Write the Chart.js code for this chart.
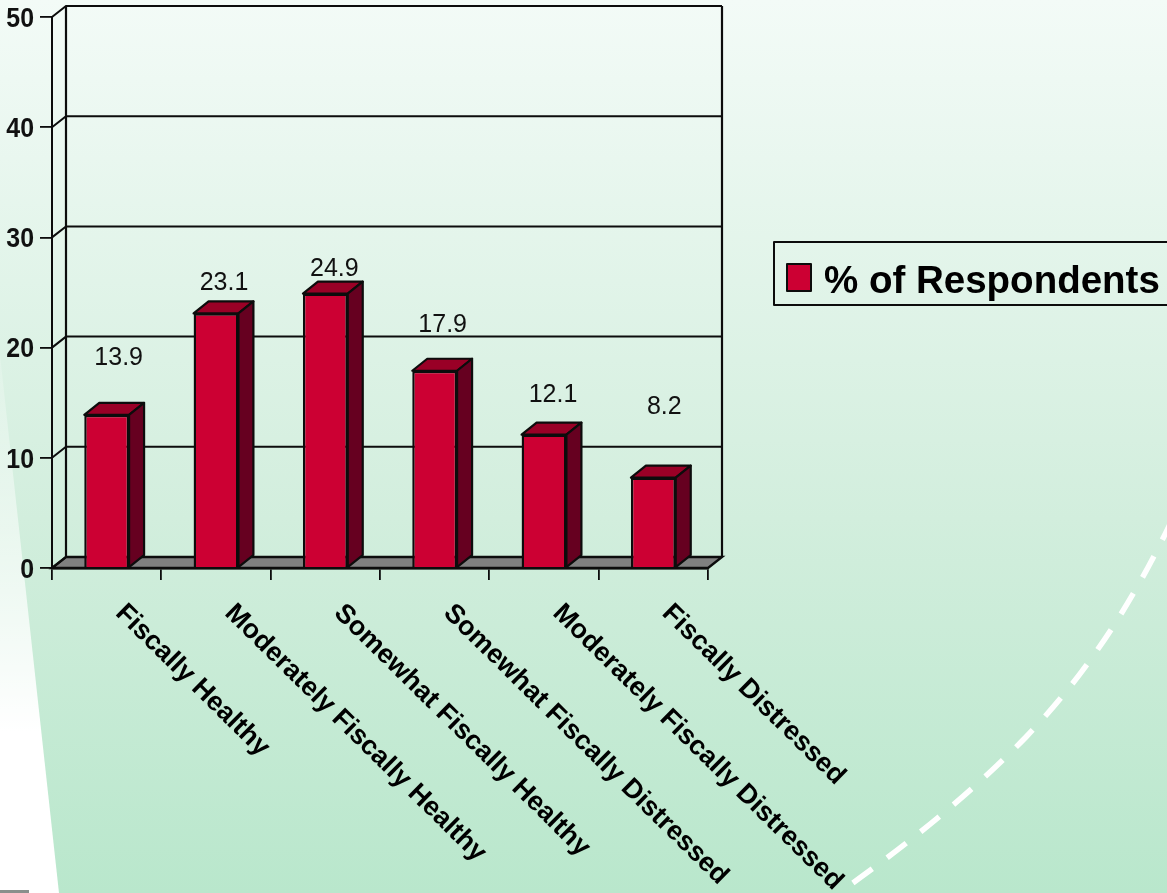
<!DOCTYPE html>
<html>
<head>
<meta charset="utf-8">
<style>
  html, body { margin: 0; padding: 0; width: 1167px; height: 893px; overflow: hidden; }
  body { position: relative; background: linear-gradient(to bottom, #f3fbf7 0%, #d2eedd 58%, #b9e7cc 100%); }
  svg, canvas { position: absolute; left: 0; top: 0; }
</style>
</head>
<body>
<svg width="1167" height="893">
  <defs>
    <linearGradient id="wedge" x1="0" y1="0" x2="0" y2="1">
      <stop offset="0" stop-color="#ffffff" stop-opacity="0.15"/>
      <stop offset="0.7" stop-color="#ffffff" stop-opacity="1"/>
    </linearGradient>
  </defs>
  <polygon points="0,355 59,893 0,893" fill="url(#wedge)"/>
  <rect x="0" y="890" width="29" height="3" fill="#8a8f8c"/>
  <path d="M1170,524 Q1110,650 1026,737 Q950,815 840,892" fill="none" stroke="#fff" stroke-width="5.5" stroke-dasharray="24 18.5" stroke-dashoffset="6.5"/>
</svg>
<canvas id="fiscalChart" width="1167" height="893"></canvas>
<script src="https://cdn.jsdelivr.net/npm/chart.js@4"></script>
<script>
const categories = ['Fiscally Healthy', 'Moderately Fiscally Healthy', 'Somewhat Fiscally Healthy',
  'Somewhat Fiscally Distressed', 'Moderately Fiscally Distressed', 'Fiscally Distressed'];
const respondents = [13.9, 23.1, 24.9, 17.9, 12.1, 8.2];
const seriesName = '% of Respondents';
const yTicks = [0, 10, 20, 30, 40, 50];

// how far each value label floats above its bar and to the right of its centre, px
const labelLift = [57, 30, 24, 46, 40, 71];
const labelShift = [12, 8, 9, 8, 9, 11];

const ink = '#0c0c0c';
const barDepthX = 15, barDepthY = 12;
const wallDepthX = 14, wallDepthY = 11;

// back wall, floor and the little diagonals from the y axis
const wallPlugin = {
  id: 'wall',
  beforeDatasetsDraw(chart) {
    const { ctx, chartArea: a, scales: { y } } = chart;
    ctx.save();
    ctx.strokeStyle = ink;

    ctx.lineWidth = 2.4;
    ctx.beginPath();
    ctx.moveTo(a.left, a.bottom);
    ctx.lineTo(a.left + wallDepthX, a.bottom - wallDepthY);
    ctx.lineTo(a.right + wallDepthX, a.bottom - wallDepthY);
    ctx.lineTo(a.right, a.bottom);
    ctx.closePath();
    ctx.fillStyle = '#808080';
    ctx.fill();
    ctx.stroke();

    ctx.lineWidth = 2;
    yTicks.forEach(v => {
      const py = y.getPixelForValue(v);
      ctx.beginPath();
      ctx.moveTo(a.left, py);
      ctx.lineTo(a.left + wallDepthX, py - wallDepthY);
      ctx.lineTo(a.right + wallDepthX, py - wallDepthY);
      ctx.stroke();
    });

    ctx.lineWidth = 2.2;
    ctx.beginPath();
    ctx.moveTo(a.left + wallDepthX, y.getPixelForValue(50) - wallDepthY);
    ctx.lineTo(a.left + wallDepthX, a.bottom - wallDepthY);
    ctx.moveTo(a.right + wallDepthX, y.getPixelForValue(50) - wallDepthY);
    ctx.lineTo(a.right + wallDepthX, a.bottom - wallDepthY);
    ctx.stroke();
    ctx.restore();
  }
};

// 3d faces, value labels, slanted category labels and the legend box
const facesPlugin = {
  id: 'faces',
  afterDatasetsDraw(chart) {
    const { ctx, scales: { x, y } } = chart;
    const bars = chart.getDatasetMeta(0).data;
    ctx.save();
    ctx.strokeStyle = ink;
    ctx.lineWidth = 2.2;
    ctx.lineJoin = 'round';
    bars.forEach((bar, i) => {
      const half = bar.width / 2;
      const l = bar.x - half, r = bar.x + half, t = bar.y, b = bar.base;

      ctx.beginPath();
      ctx.moveTo(l, t);
      ctx.lineTo(l + barDepthX, t - barDepthY);
      ctx.lineTo(r + barDepthX, t - barDepthY);
      ctx.lineTo(r, t);
      ctx.closePath();
      ctx.fillStyle = '#990026';
      ctx.fill();
      ctx.stroke();

      ctx.beginPath();
      ctx.moveTo(r, t);
      ctx.lineTo(r + barDepthX, t - barDepthY);
      ctx.lineTo(r + barDepthX, b - barDepthY);
      ctx.lineTo(r, b);
      ctx.closePath();
      ctx.fillStyle = '#660020';
      ctx.fill();
      ctx.stroke();

      ctx.fillStyle = '#111';
      ctx.font = '25px "Liberation Sans"';
      ctx.textAlign = 'center';
      ctx.textBaseline = 'middle';
      ctx.fillText(respondents[i], bar.x + labelShift[i], t - labelLift[i]);
    });

    // y labels are a bit squeezed in the original, so drawn here rather than by the scale
    ctx.fillStyle = '#111';
    ctx.font = 'bold 28px "Liberation Sans"';
    ctx.textAlign = 'right';
    ctx.textBaseline = 'middle';
    yTicks.forEach(v => {
      ctx.save();
      ctx.translate(34, y.getPixelForValue(v) + 2);
      ctx.scale(0.89, 1);
      ctx.fillText(v, 0, 0);
      ctx.restore();
    });

    ctx.fillStyle = '#000';
    ctx.font = 'bold 27px "Liberation Sans"';
    ctx.textAlign = 'left';
    categories.forEach((name, i) => {
      ctx.save();
      ctx.translate(x.getPixelForTick(i) + 13, y.bottom + 41);
      ctx.rotate(44.5 * Math.PI / 180);
      ctx.fillText(name, 0, 0);
      ctx.restore();
    });

    ctx.strokeStyle = ink;
    ctx.lineWidth = 2;
    ctx.strokeRect(774, 242, 400, 63);
    ctx.fillStyle = '#cc0033';
    ctx.fillRect(787, 264, 24, 27);
    ctx.strokeRect(787, 264, 24, 27);
    ctx.fillStyle = '#000';
    ctx.font = 'bold 38.5px "Liberation Sans"';
    ctx.textBaseline = 'alphabetic';
    ctx.fillText(chart.data.datasets[0].label, 824, 293);
    ctx.restore();
  }
};

new Chart(document.getElementById('fiscalChart'), {
  type: 'bar',
  data: {
    labels: categories,
    datasets: [{
      label: seriesName,
      data: respondents,
      backgroundColor: '#cc0033',
      borderColor: ink,
      borderWidth: 2.4,
      barPercentage: 0.41,
      categoryPercentage: 1
    }]
  },
  options: {
    responsive: false,
    animation: false,
    layout: { padding: { top: 17, right: 459, left: 0, bottom: 0 } },
    plugins: { legend: { display: false }, tooltip: { enabled: false } },
    scales: {
      x: {
        afterFit: s => { s.height = 325; },
        ticks: { display: false },
        grid: { offset: true, drawOnChartArea: false, drawTicks: true, tickLength: 12, color: ink, lineWidth: 1.8 },
        border: { color: ink, width: 2.4 }
      },
      y: {
        min: 0,
        max: 50,
        afterFit: s => { s.width = 52; s.paddingTop = 0; s.paddingBottom = 0; },
        afterBuildTicks: s => { s.ticks = yTicks.map(v => ({ value: v })); },
        ticks: { display: false },
        grid: { drawOnChartArea: false, drawTicks: true, tickLength: 12, color: ink, lineWidth: 1.8 },
        border: { color: ink, width: 2 }
      }
    }
  },
  plugins: [wallPlugin, facesPlugin]
});
</script>
</body>
</html>
